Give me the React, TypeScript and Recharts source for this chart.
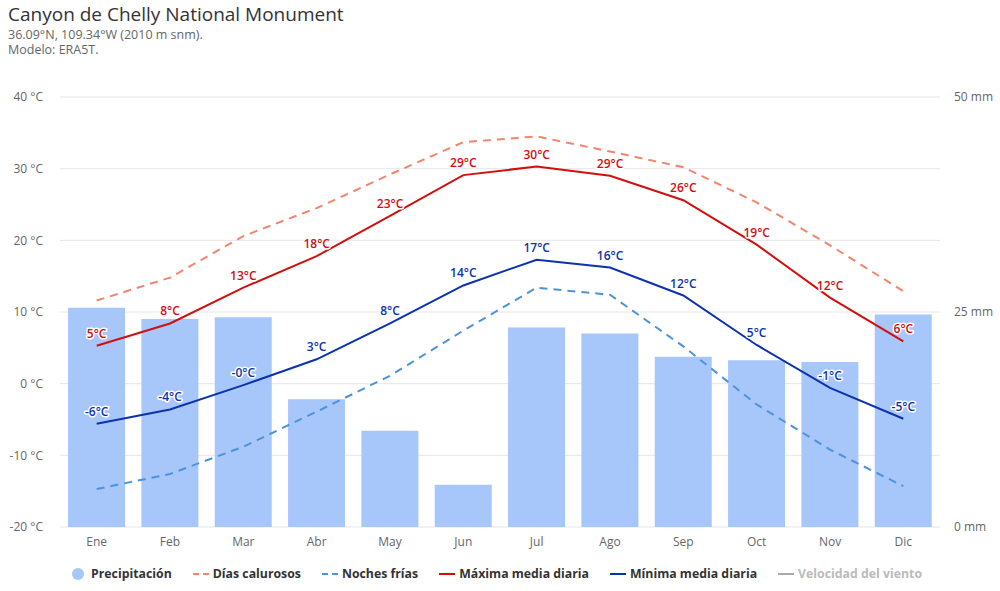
import React from 'react'
import {
  ComposedChart,
  Bar,
  Line,
  XAxis,
  YAxis,
  CartesianGrid,
  LabelList,
} from 'recharts'

const MONTHS = ['Ene', 'Feb', 'Mar', 'Abr', 'May', 'Jun', 'Jul', 'Ago', 'Sep', 'Oct', 'Nov', 'Dic']
const PRECIP = [25.5, 24.2, 24.4, 14.85, 11.2, 4.9, 23.2, 22.5, 19.8, 19.4, 19.2, 24.7]
const HOT_DAYS = [11.6, 14.8, 20.6, 24.5, 29.2, 33.7, 34.5, 32.4, 30.2, 25.3, 19.3, 12.9]
const COLD_NIGHTS = [-14.7, -12.6, -8.8, -3.9, 1.1, 7.4, 13.4, 12.4, 5.2, -2.9, -9.2, -14.3]
const MAX_DAILY = [5.3, 8.4, 13.4, 17.8, 23.4, 29.1, 30.3, 29.0, 25.6, 19.4, 12.0, 5.9]
const MIN_DAILY = [-5.6, -3.6, -0.2, 3.4, 8.4, 13.7, 17.3, 16.2, 12.3, 5.4, -0.6, -4.9]

const TEMP_TICKS = [-20, -10, 0, 10, 20, 30, 40]
const PRECIP_TICKS = [0, 50 / 6, 100 / 6, 25, 200 / 6, 250 / 6, 50]

const C_PRECIP = '#a7c6fa'
const C_HOT = '#f4846c'
const C_COLD = '#4d93dc'
const C_MAX = '#d20f0f'
const C_MIN = '#0b33b0'
const FONT = '"Open Sans", "DejaVu Sans", sans-serif'

const data = MONTHS.map((m, i) => ({
  month: m,
  precip: PRECIP[i],
  hot: HOT_DAYS[i],
  cold: COLD_NIGHTS[i],
  max: MAX_DAILY[i],
  min: MIN_DAILY[i],
}))

const fmtTemp = (v: number) => {
  const r = Math.round(v)
  return `${v < 0 && r === 0 ? '-0' : r}°C`
}

const tempLabel = (color: string) => (props: any) => {
  const { x, y, value } = props
  return (
    <text
      x={x}
      y={y - 8}
      textAnchor="middle"
      fontSize={12}
      fontWeight={600}
      fontFamily={FONT}
      fill={color}
      stroke="#fff"
      strokeWidth={3}
      strokeLinejoin="round"
      paintOrder="stroke"
    >
      {fmtTemp(value)}
    </text>
  )
}

const legendItems = [
  { name: 'Precipitación', color: C_PRECIP, kind: 'dot' },
  { name: 'Días calurosos', color: C_HOT, kind: 'dash' },
  { name: 'Noches frías', color: C_COLD, kind: 'dash' },
  { name: 'Máxima media diaria', color: C_MAX, kind: 'line' },
  { name: 'Mínima media diaria', color: C_MIN, kind: 'line' },
  { name: 'Velocidad del viento', color: '#aaa', kind: 'line', hidden: true },
]

function LegendSymbol({ kind, color }: { kind: string; color: string }) {
  if (kind === 'dot') {
    return (
      <svg width={14} height={14} style={{ marginRight: 6 }}>
        <circle cx={7} cy={7} r={6} fill={color} />
      </svg>
    )
  }
  return (
    <svg width={16} height={14} style={{ marginRight: 4 }}>
      <line
        x1={0}
        x2={16}
        y1={7}
        y2={7}
        stroke={color}
        strokeWidth={2}
        strokeDasharray={kind === 'dash' ? '6 4' : undefined}
      />
    </svg>
  )
}

const subStyle: React.CSSProperties = {
  position: 'absolute',
  left: 8,
  fontSize: 12.5,
  lineHeight: '14px',
  height: 14,
  color: '#666',
  whiteSpace: 'nowrap',
}

export default function App() {
  return (
    <div
      style={{
        position: 'absolute',
        left: 0,
        top: 0,
        width: 1000,
        height: 591,
        background: '#fff',
        fontFamily: FONT,
      }}
    >
      <div style={{ position: 'absolute', left: 8, top: 4, fontSize: 19, lineHeight: '21px', color: '#333' }}>
        Canyon de Chelly National Monument
      </div>
      <div style={{ ...subStyle, top: 28 }}>36.09°N, 109.34°W (2010 m snm).</div>
      <div style={{ ...subStyle, top: 43 }}>Modelo: ERA5T.</div>

      <ComposedChart
        width={1000}
        height={591}
        data={data}
        margin={{ top: 97, right: 0, left: 0, bottom: 34 }}
        barCategoryGap="11%"
      >
        <CartesianGrid vertical={false} stroke="#e6e6e6" yAxisId="temp" />
        <XAxis
          dataKey="month"
          height={30}
          axisLine={false}
          tickLine={false}
          tick={{ fontSize: 12, fill: '#666', fontFamily: FONT }}
          tickMargin={4}
        />
        <YAxis
          yAxisId="temp"
          orientation="left"
          width={60}
          domain={[-20, 40]}
          ticks={TEMP_TICKS}
          axisLine={false}
          tickLine={false}
          tickMargin={11}
          tickFormatter={(v: number) => `${v} °C`}
          tick={{ fontSize: 12, fill: '#666', fontFamily: FONT }}
        />
        <YAxis
          yAxisId="precip"
          orientation="right"
          width={60}
          domain={[0, 50]}
          ticks={PRECIP_TICKS}
          axisLine={false}
          tickLine={false}
          tickMargin={8}
          tickFormatter={(v: number) => (v === 0 || v === 25 || v === 50 ? `${v} mm` : '')}
          tick={{ fontSize: 12, fill: '#666', fontFamily: FONT, textAnchor: 'start' }}
        />
        <Bar yAxisId="precip" dataKey="precip" fill={C_PRECIP} isAnimationActive={false} />
        <Line
          yAxisId="temp"
          dataKey="hot"
          stroke={C_HOT}
          strokeWidth={2}
          strokeDasharray="8 6"
          dot={false}
          type="linear"
          isAnimationActive={false}
        />
        <Line
          yAxisId="temp"
          dataKey="cold"
          stroke={C_COLD}
          strokeWidth={2}
          strokeDasharray="8 6"
          dot={false}
          type="linear"
          isAnimationActive={false}
        />
        <Line
          yAxisId="temp"
          dataKey="max"
          stroke={C_MAX}
          strokeWidth={2}
          dot={false}
          type="linear"
          isAnimationActive={false}
        >
          <LabelList dataKey="max" content={tempLabel(C_MAX)} />
        </Line>
        <Line
          yAxisId="temp"
          dataKey="min"
          stroke={C_MIN}
          strokeWidth={2}
          dot={false}
          type="linear"
          isAnimationActive={false}
        >
          <LabelList dataKey="min" content={tempLabel(C_MIN)} />
        </Line>
      </ComposedChart>

      <div
        style={{
          position: 'absolute',
          left: 71,
          top: 565,
          display: 'flex',
          alignItems: 'center',
          fontSize: 12.3,
          fontWeight: 'bold',
          whiteSpace: 'nowrap',
        }}
      >
        {legendItems.map((it) => (
          <div
            key={it.name}
            style={{ display: 'flex', alignItems: 'center', marginRight: 21, color: it.hidden ? '#bbb' : '#333' }}
          >
            <LegendSymbol kind={it.kind} color={it.color} />
            <span>{it.name}</span>
          </div>
        ))}
      </div>
    </div>
  )
}
